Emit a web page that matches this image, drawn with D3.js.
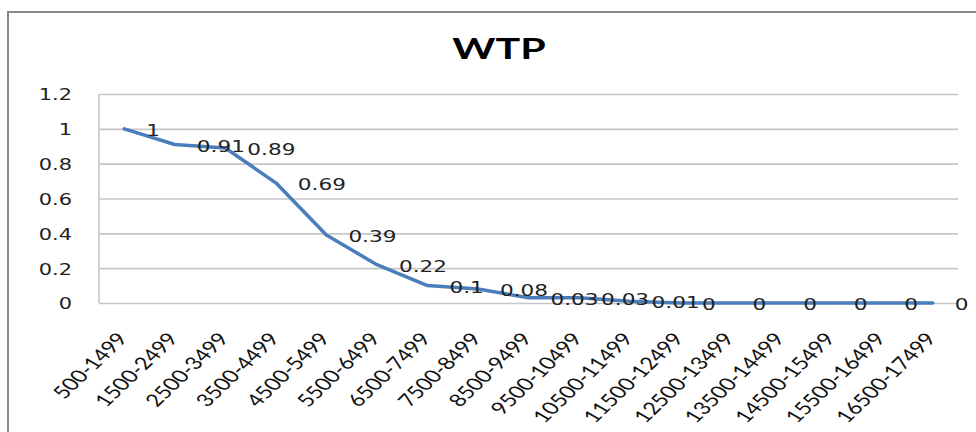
<!DOCTYPE html>
<html>
<head>
<meta charset="utf-8">
<script src="https://cdn.jsdelivr.net/npm/d3@7"></script>
<style>
  html, body { margin: 0; padding: 0; background: #fff; }
  svg { display: block; }
</style>
</head>
<body>
<svg id="chart" width="976" height="432"></svg>
<script>
const titleText = "WTP";
const categories = ["500-1499","1500-2499","2500-3499","3500-4499","4500-5499","5500-6499","6500-7499","7500-8499","8500-9499","9500-10499","10500-11499","11500-12499","12500-13499","13500-14499","14500-15499","15500-16499","16500-17499"];
const values = [1, 0.91, 0.89, 0.69, 0.39, 0.22, 0.1, 0.08, 0.03, 0.03, 0.01, 0, 0, 0, 0, 0, 0];
const valueLabels = ["1","0.91","0.89","0.69","0.39","0.22","0.1","0.08","0.03","0.03","0.01","0","0","0","0","0","0"];
const yTicks = [0, 0.2, 0.4, 0.6, 0.8, 1, 1.2];
const yTickLabels = ["0","0.2","0.4","0.6","0.8","1","1.2"];

const SX = 1.35; // horizontal stretch of the original picture
const svg = d3.select("#chart");
const plot = {left: 99, right: 958, top: 94, bottom: 303};

// outer chart border
svg.append("rect")
  .attr("x", 8).attr("y", 12).attr("width", 1100).attr("height", 600)
  .attr("fill", "#fff").attr("stroke", "#8a8a8a").attr("stroke-width", 2);

// title
svg.append("text")
  .attr("transform", `translate(499,59) scale(1.42,1)`)
  .attr("text-anchor", "middle")
  .attr("font-family", "Lato, 'Liberation Sans', sans-serif")
  .attr("font-weight", "bold")
  .attr("font-size", 29)
  .attr("fill", "#000")
  .text(titleText);

const x = d3.scalePoint().domain(categories).range([plot.left, plot.right]).padding(0.5);
const y = d3.scaleLinear().domain([0, 1.2]).range([plot.bottom, plot.top]);

// y axis with gridlines
const yAxis = svg.append("g")
  .attr("transform", `translate(${plot.left},0)`)
  .call(d3.axisLeft(y).tickValues(yTicks).tickFormat((d, i) => yTickLabels[i])
        .tickSize(-(plot.right - plot.left)).tickPadding(27));
yAxis.select(".domain").remove();
yAxis.selectAll(".tick line").attr("stroke", "#c6c6c6").attr("stroke-width", 1.6);
yAxis.selectAll(".tick text").each(function() {
  const t = d3.select(this);
  const xx = +t.attr("x");
  t.attr("x", 0).attr("transform", `translate(${xx},1) scale(${SX},1)`);
})
  .attr("font-family", "'DejaVu Sans', Verdana, sans-serif")
  .attr("font-size", 15.5)
  .attr("fill", "#222");

// plot left border
svg.append("line")
  .attr("x1", plot.left).attr("x2", plot.left)
  .attr("y1", plot.top).attr("y2", plot.bottom)
  .attr("stroke", "#c6c6c6").attr("stroke-width", 1.6);

// x axis labels
const xAxis = svg.append("g")
  .attr("transform", `translate(0,${plot.bottom})`)
  .call(d3.axisBottom(x).tickSize(0).tickPadding(0));
xAxis.select(".domain").remove();
xAxis.selectAll(".tick text")
  .attr("x", null).attr("y", null).attr("dy", null)
  .attr("text-anchor", "end")
  .attr("transform", `translate(4,36) scale(${SX},1) rotate(-52)`)
  .attr("font-family", "Lato, 'Liberation Sans', sans-serif")
  .attr("font-size", 17.5)
  .attr("fill", "#111");

// line
svg.append("path")
  .datum(values)
  .attr("fill", "none")
  .attr("stroke", "#4a7ebb")
  .attr("stroke-width", 3.5)
  .attr("stroke-linejoin", "round")
  .attr("stroke-linecap", "round")
  .attr("d", d3.line().x((d, i) => x(categories[i])).y(d => y(d)));

// data labels
svg.append("g").selectAll("text")
  .data(values)
  .join("text")
  .attr("transform", (d, i) => `translate(${x(categories[i]) + 22},${y(d) + 7}) scale(${SX},1)`)
  .attr("font-family", "'DejaVu Sans', Verdana, sans-serif")
  .attr("font-size", 16)
  .attr("fill", "#222")
  .text((d, i) => valueLabels[i]);
</script>
</body>
</html>
